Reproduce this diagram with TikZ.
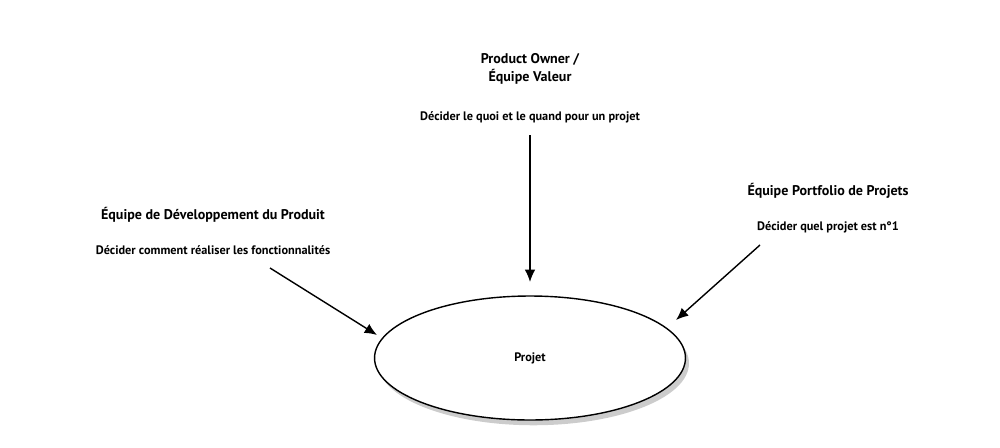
\documentclass[tikz,border=0pt]{standalone}
\usepackage{fontspec}
\setmainfont{PT Sans}
\usetikzlibrary{arrows.meta,shadows,shapes.geometric}
\tikzset{
  lbl/.style={font=\fontsize{7}{9}\selectfont\bfseries, align=center},
  ttl/.style={font=\fontsize{8}{10}\selectfont\bfseries, align=center},
  arr/.style={-{Latex[length=7pt,width=6pt]}, thick},
}
\begin{document}
\begin{tikzpicture}[x=0.02cm, y=-0.02cm]
    \useasboundingbox (0,0) rectangle (1000,447);
    % project
    \node[draw, thick, ellipse, minimum width=6.22cm, minimum height=2.48cm, fill=white,
          drop shadow={shadow xshift=2pt, shadow yshift=-3pt, opacity=0.4}] (projet) at (530,358) {};
    \node[lbl] at (projet) {Projet};
    % product owner
    \node[ttl] (po) at (530,69) {Product Owner /\\Équipe Valeur};
    \node[lbl] (poq) at (530,117) {Décider le quoi et le quand pour un projet};
    % dev team
    \node[ttl] (dev) at (213,215) {Équipe de Développement du Produit};
    \node[lbl] (devq) at (213,250) {Décider comment réaliser les fonctionnalités};
    % portfolio
    \node[ttl] (pf) at (828,191) {Équipe Portfolio de Projets};
    \node[lbl] (pfq) at (828,227) {Décider quel projet est n°1};
    \coordinate (s1) at (530,135);
    \coordinate (s2) at (270,268);
    \coordinate (s3) at (760,245);
    \coordinate (a1) at (530,282);
    \coordinate (a2) at (377,335);
    \coordinate (a3) at (676,320);
    \draw[arr] (s1) -- (a1);
    \draw[arr] (s2) -- (a2);
    \draw[arr] (s3) -- (a3);
\end{tikzpicture}
\end{document}
